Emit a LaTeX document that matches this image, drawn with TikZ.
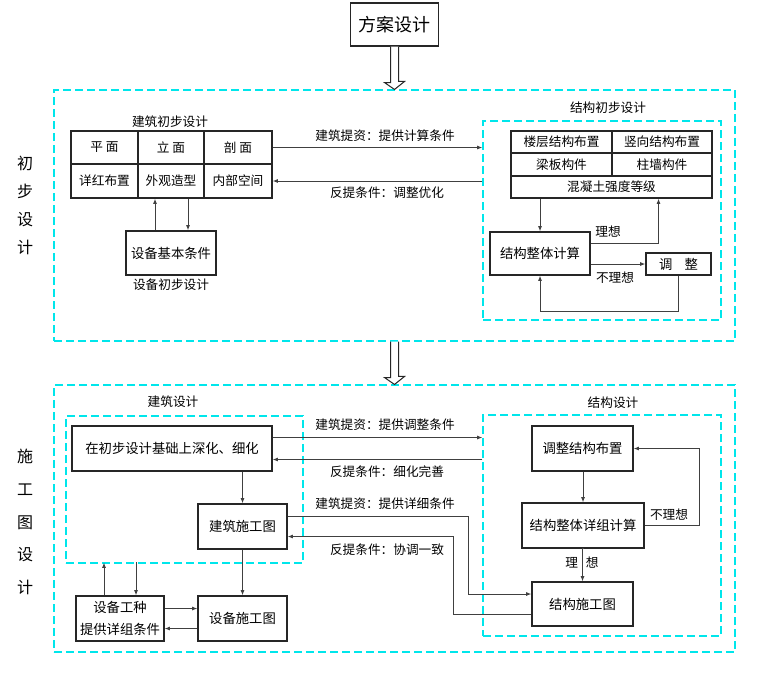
\documentclass[tikz,border=0pt]{standalone}
\usepackage{fontspec}
\newfontfamily\cjk{Noto Sans CJK SC}
\usetikzlibrary{%
  positioning,
  calc,
  arrows.meta,
}
\definecolor{zonecyan}{RGB}{0,230,235}

\begin{document}
\begin{tikzpicture}[%
           x=0.75pt, y=-0.75pt,
           every node/.style={font=\cjk\fontsize{9.5}{11}\selectfont, inner sep=0pt},
           % size given in pixels of the reference
           sz/.style 2 args={minimum width=#1*0.75pt, minimum height=#2*0.75pt},
           box/.style={
             rectangle,
             draw=black!85,
             line width=0.8pt,
             font=\cjk\fontsize{10}{11}\selectfont,
           },
           cell/.style={
             box,
             font=\cjk\fontsize{9.5}{11}\selectfont,
           },
           zone/.style={
             % the dashed cyan frames
             rectangle,
             draw=zonecyan,
             line width=0.8pt,
             dash pattern=on 6pt off 3pt,
           },
           arr/.style={
             -{Latex[length=4pt,width=3pt]},
             draw=black!75,
             line width=0.75pt,
           },
           hollow/.style={
             draw=black!85,
             fill=white,
             line width=0.75pt,
           },
           side/.style={
             align=center,
             font=\cjk\fontsize{12}{21}\selectfont,
           }]
         \useasboundingbox (0,0) rectangle (760,689);

         % frames
         \node[zone, sz={681}{251}] (stage1) at (394.5,215.5) {};
         \node[zone, sz={681}{267}] (stage2) at (394.5,518.5) {};
         \node[zone, sz={238}{199}] (structA) at (602,220.5) {};
         \node[zone, sz={237}{147}] (archB) at (184.5,489.5) {};
         \node[zone, sz={238}{221}] (structB) at (602,525.5) {};

         \node[side] (initLabel) at (25,205) {初\\步\\设\\计};
         \node[side, font=\cjk\fontsize{12}{24.5}\selectfont] (workLabel) at (25,522) {施\\工\\图\\设\\计};

         % top
         \node[box, sz={88}{43}, font=\cjk\fontsize{13.5}{15}\selectfont] (plan) at (394.5,24.5) {方案设计};
         \draw[hollow] ($(plan.south)+(-4,0)$) -- ++(0,36) -- ++(-6,0) -- (stage1.north)
           -- ++(10,-8) -- ++(-6,0) -- ($(plan.south)+(4,0)$);
         \draw[hollow] ($(stage1.south)+(-4,0)$) -- ++(0,36) -- ++(-6,0) -- (stage2.north)
           -- ++(10,-8) -- ++(-6,0) -- ($(stage1.south)+(4,0)$);

         % preliminary: architecture
         \node (archTitle) at (170,122) {建筑初步设计};
         \node[cell, sz={67}{33}] (pm) at (104.5,147.5) {平~面};
         \node[cell, sz={66}{33}] (lm) at (171,147.5) {立~面};
         \node[cell, sz={68}{33}] (pom) at (238,147.5) {剖~面};
         \node[cell, sz={67}{34}] (xb) at (104.5,181) {详红布置};
         \node[cell, sz={66}{34}] (wg) at (171,181) {外观造型};
         \node[cell, sz={68}{34}] (nb) at (238,181) {内部空间};
         \node[box, sz={90}{44}] (eqA) at (171,253) {设备基本条件};
         \node (eqTitle) at (171,285) {设备初步设计};
         \draw[arr] ($(eqA.north)+(-16,0)$) -- ($(wg.south)+(-16,0)$);
         \draw[arr] ($(wg.south)+(17,0)$) -- ($(eqA.north)+(17,0)$);

         % preliminary: structure
         \node (structTitle) at (608,108) {结构初步设计};
         \node[cell, sz={101}{22}] (lc) at (561.5,142) {楼层结构布置};
         \node[cell, sz={100}{22}] (sx) at (662,142) {竖向结构布置};
         \node[cell, sz={101}{23}] (lb) at (561.5,164.5) {梁板构件};
         \node[cell, sz={100}{23}] (zq) at (662,164.5) {柱墙构件};
         \node[cell, sz={201}{22}] (hnt) at (611.5,187) {混凝土强度等级};
         \node[box, sz={100}{43}] (calcA) at (540,253.5) {结构整体计算};
         \node[box, sz={65}{22}] (adj) at (678.5,264) {调\hspace{9pt}整};
         \draw[arr] (calcA.north |- hnt.south) -- (calcA.north);
         \draw[arr] ($(calcA.east)+(0,-10)$) -| ($(hnt.south)+(47,0)$);
         \draw[arr] (calcA.east |- adj.west) -- (adj.west);
         \draw[arr] (adj.south) -- ++(0,36) -| (calcA.south);
         \node (okA) at (608,232) {理想};
         \node (badA) at (615,278) {不理想};

         % preliminary: exchange
         \draw[arr] (pom.east) -- (pom.east -| structA.west);
         \draw[arr] (nb.east -| structA.west) -- (nb.east);
         \node (giveA) at (385,136) {建筑提资：提供计算条件};
         \node (backA) at (387,193) {反提条件：调整优化};

         % construction: architecture
         \node (archBTitle) at (173,402) {建筑设计};
         \node[box, sz={200}{45}] (deep) at (172,448.5) {在初步设计基础上深化、细化};
         \node[box, sz={89}{45}] (archDraw) at (242.5,526.5) {建筑施工图};
         \draw[arr] (archDraw.north |- deep.south) -- (archDraw.north);

         % construction: structure
         \node (structBTitle) at (613,403) {结构设计};
         \node[box, sz={101}{45}] (adjB) at (582.5,448.5) {调整结构布置};
         \node[box, sz={122}{45}] (calcB) at (583,525.5) {结构整体详组计算};
         \node[box, sz={101}{44}] (strDraw) at (582.5,604) {结构施工图};
         \draw[arr] (calcB.north |- adjB.south) -- (calcB.north);
         \draw[arr] (calcB.south) -- (strDraw.north |- calcB.south) -- (strDraw.north);
         \draw[arr] (calcB.east) -- ++(55,0) |- (adjB.east);
         \node (okB) at (582,563) {理\hspace{6pt}想};
         \node (badB) at (669,515) {不理想};

         % construction: exchange
         \path ($(deep.east)+(0,-11)$) coordinate (giveBStart)
               ($(deep.east)+(0,11)$) coordinate (backBEnd);
         \draw[arr] (giveBStart) -- (giveBStart -| structB.west);
         \draw[arr] (backBEnd -| structB.west) -- (backBEnd);
         \node (giveB) at (385,425) {建筑提资：提供调整条件};
         \node (backB) at (387,472) {反提条件：细化完善};
         \draw[arr] ($(archDraw.east)+(0,-10)$) -- ++(181,0) |- ($(strDraw.west)+(0,-10)$);
         \draw[arr] ($(strDraw.west)+(0,10)$) -- ++(-78,0) |- ($(archDraw.east)+(0,10)$);
         \node (giveC) at (385,504) {建筑提资：提供详细条件};
         \node (backC) at (387,550) {反提条件：协调一致};

         % equipment
         \node[box, sz={88}{45}, align=center] (eqW) at (120,618.5) {设备工种\\[5pt]提供详组条件};
         \node[box, sz={89}{45}] (eqD) at (242.5,618.5) {设备施工图};
         \draw[arr] ($(eqW.north)+(-16,0)$) -- ++(0,-33);
         \draw[arr] ($(eqW.north)+(16,-33)$) -- ($(eqW.north)+(16,0)$);
         \draw[arr] (archDraw.south) -- (eqD.north);
         \draw[arr] ($(eqW.east)+(0,-10)$) -- ($(eqD.west)+(0,-10)$);
         \draw[arr] ($(eqD.west)+(0,10)$) -- ($(eqW.east)+(0,10)$);
       \end{tikzpicture}
\end{document}
